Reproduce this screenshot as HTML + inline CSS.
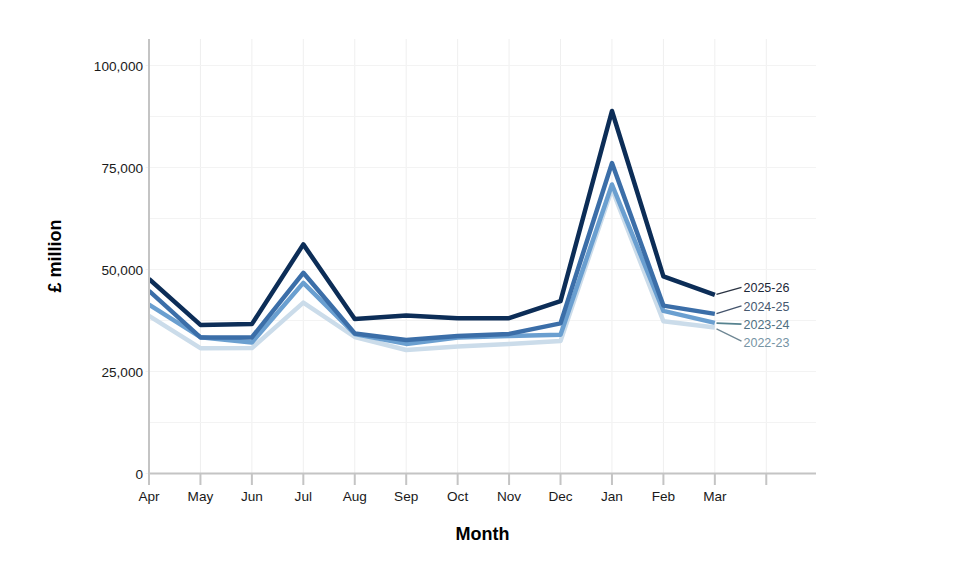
<!DOCTYPE html>
<html><head><meta charset="utf-8"><title>Chart</title>
<style>
html,body{margin:0;padding:0;background:#fff;}
body{width:980px;height:563px;overflow:hidden;font-family:"Liberation Sans",sans-serif;}
svg{display:block;}
text{font-family:"Liberation Sans",sans-serif;}
.tick{font-size:13.6px;fill:#1a1a1a;}
.ttl{font-size:18px;font-weight:bold;fill:#000;}
.lab{font-size:12.5px;}
</style></head><body>
<svg width="980" height="563" viewBox="0 0 980 563">
<rect width="980" height="563" fill="#fff"/>

<g stroke="#efefef" stroke-width="1" fill="none">
<line x1="200.44" y1="39" x2="200.44" y2="473.5"/>
<line x1="251.88" y1="39" x2="251.88" y2="473.5"/>
<line x1="303.32" y1="39" x2="303.32" y2="473.5"/>
<line x1="354.76" y1="39" x2="354.76" y2="473.5"/>
<line x1="406.20" y1="39" x2="406.20" y2="473.5"/>
<line x1="457.64" y1="39" x2="457.64" y2="473.5"/>
<line x1="509.08" y1="39" x2="509.08" y2="473.5"/>
<line x1="560.52" y1="39" x2="560.52" y2="473.5"/>
<line x1="611.96" y1="39" x2="611.96" y2="473.5"/>
<line x1="663.40" y1="39" x2="663.40" y2="473.5"/>
<line x1="714.84" y1="39" x2="714.84" y2="473.5"/>
<line x1="766.28" y1="39" x2="766.28" y2="473.5"/>
<line x1="145.5" y1="473.50" x2="816" y2="473.50" stroke="#f3f3f3"/>
<line x1="149" y1="422.50" x2="816" y2="422.50" stroke="#f3f3f3"/>
<line x1="145.5" y1="371.50" x2="816" y2="371.50" stroke="#f3f3f3"/>
<line x1="149" y1="320.50" x2="816" y2="320.50" stroke="#f3f3f3"/>
<line x1="145.5" y1="269.50" x2="816" y2="269.50" stroke="#f3f3f3"/>
<line x1="149" y1="218.50" x2="816" y2="218.50" stroke="#f3f3f3"/>
<line x1="145.5" y1="167.50" x2="816" y2="167.50" stroke="#f3f3f3"/>
<line x1="149" y1="116.50" x2="816" y2="116.50" stroke="#f3f3f3"/>
<line x1="145.5" y1="65.50" x2="816" y2="65.50" stroke="#f3f3f3"/>
</g>
<g class="tick" text-anchor="end">
<text x="143" y="479.00">0</text>
<text x="143" y="377.00">25,000</text>
<text x="143" y="275.00">50,000</text>
<text x="143" y="173.00">75,000</text>
<text x="143" y="71.00">100,000</text>
</g>
<g class="tick" text-anchor="middle">
<text x="149.00" y="501">Apr</text>
<text x="200.44" y="501">May</text>
<text x="251.88" y="501">Jun</text>
<text x="303.32" y="501">Jul</text>
<text x="354.76" y="501">Aug</text>
<text x="406.20" y="501">Sep</text>
<text x="457.64" y="501">Oct</text>
<text x="509.08" y="501">Nov</text>
<text x="560.52" y="501">Dec</text>
<text x="611.96" y="501">Jan</text>
<text x="663.40" y="501">Feb</text>
<text x="714.84" y="501">Mar</text>
</g>
<text class="ttl" text-anchor="middle" x="482.5" y="539.7">Month</text>
<text class="ttl" text-anchor="middle" transform="translate(60.6,256) rotate(-90)">£ million</text>
<defs><clipPath id="cp"><rect x="149" y="30" width="680" height="450"/></clipPath></defs><g clip-path="url(#cp)">
<polyline points="149.00,315.80 200.44,348.20 251.88,348.10 303.32,302.60 354.76,337.00 406.20,350.00 457.64,346.40 509.08,344.10 560.52,341.00 611.96,189.00 663.40,321.30 714.84,327.40" fill="none" stroke="#cbdcea" stroke-width="4.5" stroke-linejoin="round" stroke-linecap="butt"/>
<polyline points="149.00,304.60 200.44,337.20 251.88,342.50 303.32,282.90 354.76,334.00 406.20,343.90 457.64,337.60 509.08,336.00 560.52,334.80 611.96,184.50 663.40,310.90 714.84,322.90" fill="none" stroke="#6a9fd0" stroke-width="4.5" stroke-linejoin="round" stroke-linecap="butt"/>
<polyline points="149.00,290.80 200.44,337.40 251.88,337.40 303.32,272.80 354.76,333.40 406.20,340.10 457.64,335.90 509.08,333.90 560.52,323.40 611.96,163.10 663.40,305.60 714.84,313.90" fill="none" stroke="#3b6ea8" stroke-width="4.5" stroke-linejoin="round" stroke-linecap="butt"/>
<polyline points="149.00,279.00 200.44,324.90 251.88,324.10 303.32,244.40 354.76,319.00 406.20,315.40 457.64,318.20 509.08,318.20 560.52,301.20 611.96,111.00 663.40,276.30 714.84,294.90" fill="none" stroke="#0c2d57" stroke-width="4.5" stroke-linejoin="round" stroke-linecap="butt"/>
</g>
<g stroke="#c4c4c4" stroke-width="2" fill="none">
<line x1="149" y1="39" x2="149" y2="485"/>
<line x1="148" y1="473.5" x2="816" y2="473.5"/>
<line x1="200.44" y1="473.5" x2="200.44" y2="485"/>
<line x1="251.88" y1="473.5" x2="251.88" y2="485"/>
<line x1="303.32" y1="473.5" x2="303.32" y2="485"/>
<line x1="354.76" y1="473.5" x2="354.76" y2="485"/>
<line x1="406.20" y1="473.5" x2="406.20" y2="485"/>
<line x1="457.64" y1="473.5" x2="457.64" y2="485"/>
<line x1="509.08" y1="473.5" x2="509.08" y2="485"/>
<line x1="560.52" y1="473.5" x2="560.52" y2="485"/>
<line x1="611.96" y1="473.5" x2="611.96" y2="485"/>
<line x1="663.40" y1="473.5" x2="663.40" y2="485"/>
<line x1="714.84" y1="473.5" x2="714.84" y2="485"/>
<line x1="766.28" y1="473.5" x2="766.28" y2="485"/>
</g>
<line x1="716.5" y1="294.30" x2="741.5" y2="287.40" stroke="#2a3342" stroke-width="1.4"/>
<text class="lab" x="743.5" y="292.20" fill="#1c2738">2025-26</text>
<line x1="716.5" y1="313.60" x2="741.5" y2="305.90" stroke="#44546c" stroke-width="1.4"/>
<text class="lab" x="743.5" y="310.70" fill="#46586f">2024-25</text>
<line x1="716.5" y1="323.10" x2="741.5" y2="324.10" stroke="#56828f" stroke-width="1.8"/>
<text class="lab" x="743.5" y="329.00" fill="#507082">2023-24</text>
<line x1="716.5" y1="328.80" x2="741.5" y2="341.20" stroke="#6f8794" stroke-width="1.3"/>
<text class="lab" x="743.5" y="347.30" fill="#7694a4">2022-23</text>
</svg></body></html>
